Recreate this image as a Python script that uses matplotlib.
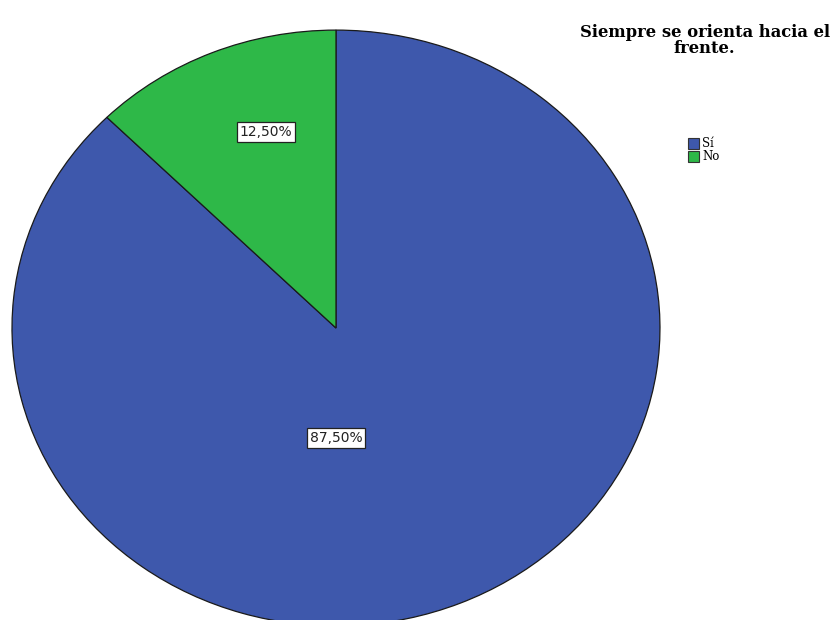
import matplotlib.pyplot as plt

# chart data
labels = ['Sí', 'No']
values = [87.5, 12.5]
colors = ['#3e58ac', '#2eb848']
pct_text = ['87,50%', '12,50%']
label_pos = [(0.0, -0.37), (-0.216, 0.658)]  # where SPSS put the value boxes

title = 'Siempre se orienta hacia el\nfrente.'

fig = plt.figure(figsize=(8.33, 6.2), dpi=100)
ax = fig.add_axes([0, 0, 1, 1])

wedges, _ = ax.pie(values, colors=colors, startangle=90, counterclock=False,
                   wedgeprops={'edgecolor': '#1a1a1a', 'linewidth': 0.9})

# slightly squashed ellipse, like the original
ax.set_aspect('auto')
ax.set_xlim(-1.037, 1.534)
ax.set_ylim(-0.980, 1.101)
ax.axis('off')

for txt, (x, y) in zip(pct_text, label_pos):
    ax.text(x, y, txt, ha='center', va='center', fontsize=10,
            family='DejaVu Sans', color='#222222',
            bbox=dict(boxstyle='square,pad=0.2', facecolor='white',
                      edgecolor='#222222', linewidth=0.9))

fig.text(0.846, 0.962, title, ha='center', va='top', fontsize=11.8,
         family='DejaVu Serif', fontweight='bold', linespacing=0.95)

leg = fig.legend(wedges, labels, loc='upper left', bbox_to_anchor=(0.819, 0.788),
                 frameon=False, handlelength=0.95, handleheight=1.0,
                 handletextpad=0.25, labelspacing=0.0, borderpad=0,
                 prop={'family': 'DejaVu Serif', 'size': 8.5})
for p in leg.get_patches():
    p.set_edgecolor('#333333')
    p.set_linewidth(0.8)

fig.savefig('out.png', dpi=100)
